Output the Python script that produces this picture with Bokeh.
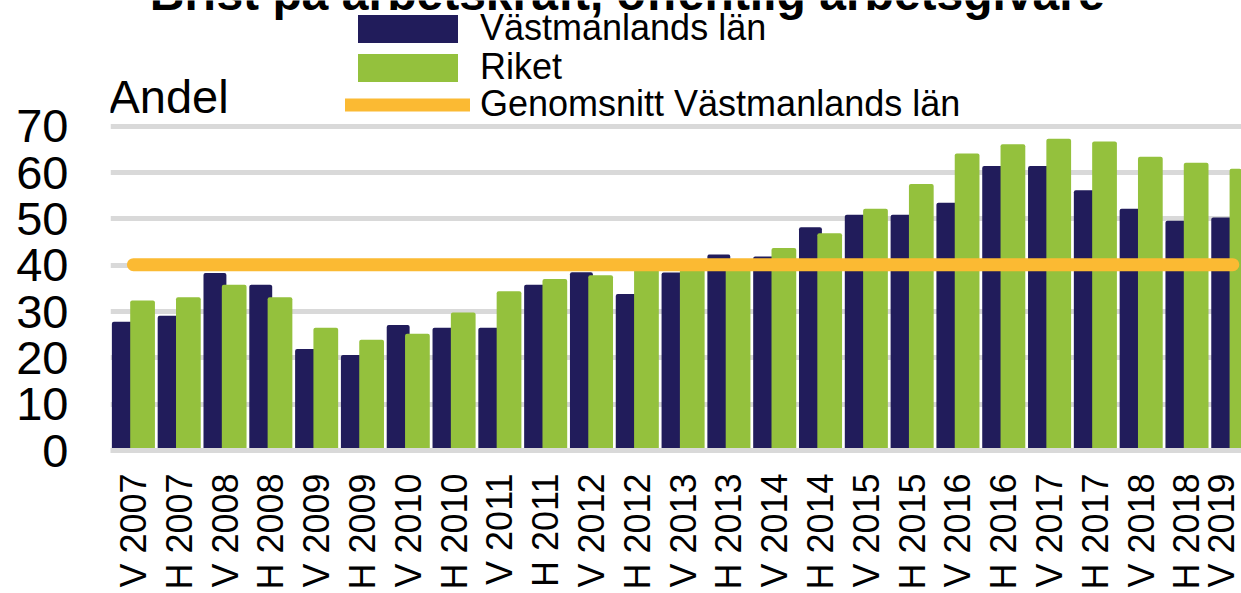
import math
from bokeh.plotting import figure
from bokeh.models import (Range1d, FixedTicker, Legend, LegendItem, Label,
                          ColumnDataSource)
from bokeh.transform import dodge
from bokeh.embed import file_html
from bokeh.resources import INLINE

# ---------------- data ----------------
kategorier = ["V 2007", "H 2007", "V 2008", "H 2008", "V 2009", "H 2009",
              "V 2010", "H 2010", "V 2011", "H 2011", "V 2012", "H 2012",
              "V 2013", "H 2013", "V 2014", "H 2014", "V 2015", "H 2015",
              "V 2016", "H 2016", "V 2017", "H 2017", "V 2018", "H 2018",
              "V 2019"]
vastmanland = [27.8, 29.1, 38.3, 35.8, 21.9, 20.6, 27.1, 26.5, 26.5, 35.8,
               38.5, 33.8, 38.4, 42.3, 41.9, 48.2, 50.9, 50.9, 53.5, 61.4,
               61.4, 56.2, 52.2, 49.6, 50.3]
riket = [32.4, 33.1, 35.8, 33.1, 26.5, 23.9, 25.2, 29.8, 34.4, 37.0,
         37.8, 39.5, 40.0, 41.0, 43.7, 46.9, 52.2, 57.5, 64.1, 66.1,
         67.3, 66.7, 63.4, 62.1, 60.8]
genomsnitt = 40.1
y_ticks = [0, 10, 20, 30, 40, 50, 60, 70]
titel = "Brist på arbetskraft, offentlig arbetsgivare"
serie_namn = ["Västmanlands län", "Riket", "Genomsnitt Västmanlands län"]

NAVY = "#211c5b"
GREEN = "#94c13d"
ORANGE = "#fbba33"
GRID = "#d9d9d9"
FONT = "Liberation Sans"

idx = list(range(len(kategorier)))
src = ColumnDataSource(dict(idx=idx, kat=kategorier, vm=vastmanland, rk=riket,
                            avg=[genomsnitt] * len(kategorier)))

p = figure(width=1241, height=593, output_backend="svg", toolbar_location=None,
           x_range=Range1d(-0.5, 24.19), y_range=Range1d(0, 97.13),
           min_border_left=110, min_border_right=0, min_border_top=0,
           min_border_bottom=143)
p.outline_line_color = None
p.background_fill_color = "white"

r1 = p.vbar(x=dodge("idx", -0.22, range=p.x_range), top="vm", width=0.5,
            source=src, fill_color=NAVY, line_color=None, border_radius=2)
r2 = p.vbar(x=dodge("idx", 0.20, range=p.x_range), top="rk", width=0.54,
            source=src, fill_color=GREEN, line_color=None, border_radius=2)
r3 = p.line(x="idx", y="avg", source=src, line_color=ORANGE, line_width=13,
            line_cap="round")

# legend swatches (full-width blocks like the original legend keys)
empty = ColumnDataSource(dict(x=[], y=[]))
s1 = p.line(x="x", y="y", source=empty, line_color=NAVY, line_width=28,
            line_cap="butt")
s2 = p.line(x="x", y="y", source=empty, line_color=GREEN, line_width=28,
            line_cap="butt")

# axes
p.xaxis.ticker = FixedTicker(ticks=idx)
p.xaxis.major_label_overrides = {i: k for i, k in enumerate(kategorier)}
p.xaxis.major_label_orientation = math.pi / 2
p.xaxis.major_label_text_font = FONT
p.xaxis.major_label_text_font_size = "36px"
p.xaxis.major_label_text_color = "black"
p.xaxis.major_label_standoff = 23
p.xaxis.major_tick_out = 0
p.xaxis.major_tick_in = 0
p.xaxis.major_tick_line_color = None
p.xaxis.minor_tick_line_color = None
p.xaxis.axis_line_color = GRID
p.xaxis.axis_line_width = 5

p.yaxis.ticker = FixedTicker(ticks=y_ticks)
p.yaxis.major_label_text_font = FONT
p.yaxis.major_label_text_font_size = "47px"
p.yaxis.major_label_text_color = "black"
p.yaxis.major_label_standoff = 42
p.yaxis.major_tick_out = 0
p.yaxis.major_tick_in = 0
p.yaxis.axis_line_color = None
p.yaxis.major_tick_line_color = None
p.yaxis.minor_tick_line_color = None

p.xgrid.grid_line_color = None
p.ygrid.grid_line_color = GRID
p.ygrid.grid_line_width = 5

# legend (one row each, so the rows sit as tightly as in the original)
common = dict(orientation="vertical", glyph_width=125, glyph_height=35,
              label_standoff=10, spacing=0, padding=0, margin=0,
              border_line_color=None, background_fill_alpha=0,
              label_text_font=FONT, label_text_font_size="36px",
              label_text_color="black")
p.add_layout(Legend(items=[LegendItem(label=serie_namn[0], renderers=[r1, s1])],
                    location=(235, 401), **common))
p.add_layout(Legend(items=[LegendItem(label=serie_namn[1], renderers=[r2, s2])],
                    location=(235, 362), **common))
p.add_layout(Legend(items=[LegendItem(label=serie_namn[2], renderers=[r3])],
                    location=(235, 325), **common))

# texts
p.add_layout(Label(x=-0.544, y=76.5, text="Andel", text_font=FONT,
                   text_font_size="47px", text_baseline="alphabetic",
                   text_color="black"))
p.add_layout(Label(x=10.78, y=98.6, text=titel, text_font=FONT,
                   text_font_size="48px", text_font_style="bold",
                   text_align="center", text_baseline="alphabetic",
                   text_color="black"))

open("out.html", "w").write(file_html(p, INLINE))
